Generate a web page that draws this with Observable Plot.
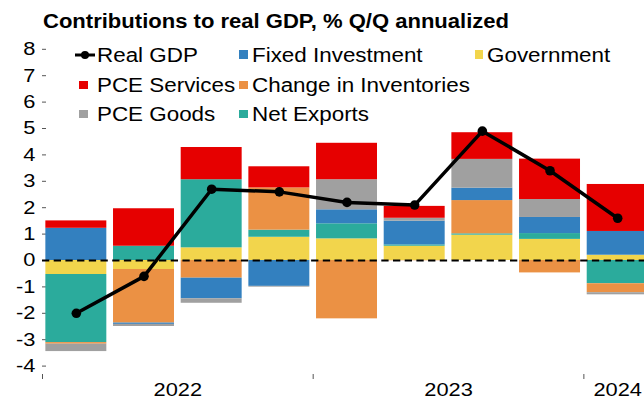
<!DOCTYPE html>
<html><head><meta charset="utf-8">
<script src="https://cdn.jsdelivr.net/npm/d3@7"></script>
<script src="https://cdn.jsdelivr.net/npm/@observablehq/plot@0.6"></script>
<style>
html,body{margin:0;padding:0;background:#fff;overflow:hidden;}
#wrap{position:relative;width:644px;height:403px;overflow:hidden;font-family:"Liberation Sans",Arial,sans-serif;color:#000;}
#chart svg{overflow:hidden;display:block;}
#chart svg text{font-family:"Liberation Sans",Arial,sans-serif;font-size:18.5px;fill:#000;}
#chart g[aria-label="y-axis tick"], #chart g[aria-label="x-axis tick"]{stroke:#555;}
#chart .tick line{stroke:#555;}
.title{position:absolute;left:43px;top:10.5px;font-weight:bold;font-size:19.5px;line-height:20px;white-space:nowrap;transform:scaleX(1.13);transform-origin:0 50%;}
.lg{position:absolute;font-size:20px;line-height:20px;white-space:nowrap;transform:scaleX(1.12);transform-origin:0 50%;}
.sw{position:absolute;width:8.5px;height:8.5px;}
</style>
</head><body>
<div id="wrap"><div id="chart"></div></div>
<script>
// ---- data ----
const quarters = ["2022 Q1","2022 Q2","2022 Q3","2022 Q4","2023 Q1","2023 Q2","2023 Q3","2023 Q4","2024 Q1"];
const realGDP         = [-2.0, -0.6, 2.7, 2.6, 2.2, 2.1, 4.9, 3.4, 1.6];
const government      = [-0.53, -0.34, 0.48, 0.88, 0.82, 0.54, 0.96, 0.80, 0.20];
const netExports      = [-2.58, 0.54, 2.58, 0.27, 0.57, 0.05, 0.05, 0.22, -0.88];
const inventories     = [-0.06, -2.03, -0.67, 1.60, -2.21, -0.01, 1.26, -0.47, -0.34];
const fixedInvestment = [1.22, -0.05, -0.78, -0.98, 0.53, 0.90, 0.47, 0.61, 0.90];
const pceGoods        = [-0.28, -0.08, -0.17, -0.03, 1.14, 0.11, 1.09, 0.68, -0.08];
const pceServices     = [0.28, 1.42, 1.22, 0.80, 1.38, 0.45, 1.01, 1.53, 1.78];
const seriesNames  = ["Government","Net Exports","Change in Inventories","Fixed Investment","PCE Goods","PCE Services"];
const seriesValues = [government, netExports, inventories, fixedInvestment, pceGoods, pceServices];
const seriesColors = ["#F2D54C","#2BAB9C","#EB9144","#3380BF","#A0A0A0","#E60000"];
const yTicks = [-4,-3,-2,-1,0,1,2,3,4,5,6,7,8];

// ---- derived tables ----
const table = [];
seriesNames.forEach((name, s) => {
  quarters.forEach((q, i) => table.push({x1: i, x2: i + 1, series: name, value: seriesValues[s][i]}));
});
const gdp = quarters.map((q, i) => ({xc: i + 0.5, v: realGDP[i]}));
const years = [...new Set(quarters.map(q => q.slice(0, 4)))];
const yearLabels = years.map(y => {
  const idx = quarters.map((q, i) => q.startsWith(y) ? i : -1).filter(i => i >= 0);
  return {year: y, start: idx[0], center: (idx[0] + idx[idx.length - 1] + 1) / 2};
});
const yearStarts = yearLabels.map(d => d.start);

const step = 67.67;
const chart = Plot.plot({
  width: 644, height: 403,
  marginLeft: 46, marginRight: 0, marginTop: 0, marginBottom: 29,
  style: {background: "white", color: "black", fontFamily: "Liberation Sans", fontSize: "18.5px"},
  x: {type: "linear", domain: [0, quarters.length], range: [42, 42 + step * quarters.length],
      ticks: yearStarts, tickFormat: () => "", tickSize: 5, label: null},
  y: {domain: [-4, 8], range: [365.6, 48.8], ticks: yTicks, tickFormat: d => String(d),
      tickSize: 4, tickPadding: 7, label: null},
  color: {domain: seriesNames, range: seriesColors},
  marks: [
    Plot.rectY(table, {x1: "x1", x2: "x2", y: "value", fill: "series", insetLeft: 3.35, insetRight: 3.35}),
    Plot.ruleY([0], {x1: 0, x2: quarters.length, stroke: "black", strokeWidth: 2, strokeDasharray: "7.3,4.4"}),
    Plot.line(gdp, {x: "xc", y: "v", stroke: "black", strokeWidth: 3.5}),
    Plot.dot(gdp, {x: "xc", y: "v", r: 4.8, fill: "black", stroke: "none"}),
    Plot.text(yearLabels, {x: "center", text: "year", frameAnchor: "bottom", dy: 21, fill: "black"})
  ]
});
document.getElementById("chart").appendChild(chart);

// horizontal stretch of svg texts around their anchor
chart.querySelectorAll("text").forEach(t => {
  const x0 = parseFloat(t.getAttribute("x") || "0") || 0;
  const tr = t.getAttribute("transform") || "";
  t.setAttribute("transform", `${tr} translate(${x0},0) scale(1.18,1) translate(${-x0},0)`);
});

// ---- title & legend (html overlay) ----
const wrap = document.getElementById("wrap");
const title = document.createElement("div");
title.className = "title";
title.textContent = "Contributions to real GDP, % Q/Q annualized";
wrap.appendChild(title);

const colText = [97, 251.7, 486.7];
const colSwatch = [79, 239, 474.7];
const rowCenter = [54.5, 85, 114.2];
const legendItems = [
  {name: "Real GDP", col: 0, row: 0, line: true},
  {name: "Fixed Investment", col: 1, row: 0},
  {name: "Government", col: 2, row: 0},
  {name: "PCE Services", col: 0, row: 1},
  {name: "Change in Inventories", col: 1, row: 1},
  {name: "PCE Goods", col: 0, row: 2},
  {name: "Net Exports", col: 1, row: 2}
];
legendItems.forEach(it => {
  const cy = rowCenter[it.row];
  if (it.line) {
    const ns = "http://www.w3.org/2000/svg";
    const s = document.createElementNS(ns, "svg");
    s.setAttribute("width", 24); s.setAttribute("height", 12);
    s.style.position = "absolute"; s.style.left = "74px"; s.style.top = (cy - 6) + "px";
    s.innerHTML = '<line x1="1" y1="6" x2="21" y2="6" stroke="black" stroke-width="3"/><circle cx="11" cy="6" r="4" fill="black"/>';
    wrap.appendChild(s);
  } else {
    const sw = document.createElement("div");
    sw.className = "sw";
    sw.style.left = colSwatch[it.col] + "px";
    sw.style.top = (cy - 4.5) + "px";
    sw.style.background = seriesColors[seriesNames.indexOf(it.name)];
    wrap.appendChild(sw);
  }
  const t = document.createElement("div");
  t.className = "lg";
  t.style.left = colText[it.col] + "px";
  t.style.top = (cy - 9.8) + "px";
  t.textContent = it.name;
  wrap.appendChild(t);
});
</script>
</body></html>
